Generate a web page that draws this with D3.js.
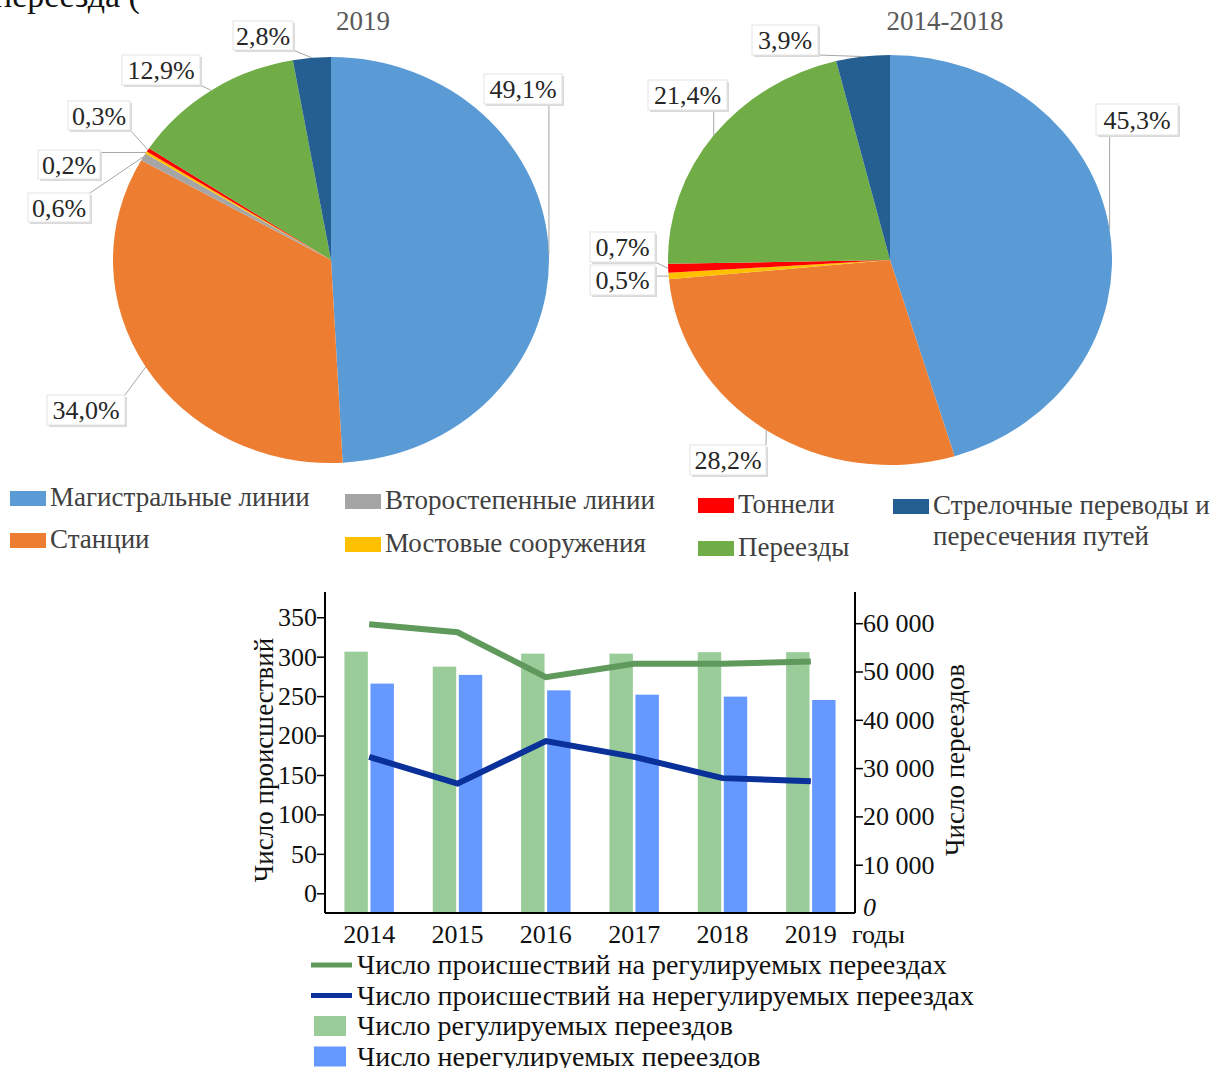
<!DOCTYPE html>
<html>
<head>
<meta charset="utf-8">
<script src="https://cdn.jsdelivr.net/npm/d3@7"></script>
<style>
  body { margin: 0; background: #fff; }
  svg { display: block; font-family: "Liberation Serif", "DejaVu Serif", serif; }
</style>
</head>
<body>
<div id="chart"></div>
<script>
// categories of the two pies (same order, clockwise from 12 o'clock)
const pieCategories = ["Магистральные линии", "Станции", "Второстепенные линии",
    "Мостовые сооружения", "Тоннели", "Переезды", "Стрелочные переводы и пересечения путей"];
const pieColors = ["#5b9bd5", "#ed7d31", "#a5a5a5", "#ffc000", "#ff0000", "#70ad47", "#255e91"];
const share2019 = [49.1, 34.0, 0.6, 0.2, 0.3, 12.9, 2.8];
const share20142018 = [45.3, 28.2, 0, 0.5, 0.7, 21.4, 3.9];

// bottom chart
const years = ["2014", "2015", "2016", "2017", "2018", "2019"];
const incidentsRegulated = [341, 331, 274, 291, 291, 294];
const incidentsUnregulated = [173, 139, 193, 173, 146, 142];
const crossingsRegulated = [54100, 51000, 53700, 53700, 54000, 54000];
const crossingsUnregulated = [47500, 49300, 46100, 45200, 44800, 44100];
const leftTicks = [0, 50, 100, 150, 200, 250, 300, 350];
const rightTicks = [0, 10000, 20000, 30000, 40000, 50000, 60000];

const W = 1217, H = 1068;
const svg = d3.select("#chart").append("svg")
    .attr("width", W).attr("height", H);

// cut-off line of text from the page above
svg.append("text").attr("x", -6).attr("y", 7)
    .style("font-size", "34px").style("fill", "#111")
    .text("переезда (");

// ---------- pies ----------
function drawPie(values, cx, cy, rx, ry, title, titleX, labelBoxes) {
    let pie = d3.pie().sort(null).value(d => d)(values);
    let arc = d3.arc().innerRadius(0).outerRadius(ry);
    let sx = rx / ry;
    let g = svg.append("g").attr("transform", "translate(" + cx + "," + cy + ") scale(" + sx + ",1)");
    g.selectAll("path")
        .data(pie)
        .enter()
        .append("path")
        .attr("d", arc)
        .style("fill", (d, i) => pieColors[i]);

    svg.append("text")
        .attr("x", titleX).attr("y", 30)
        .attr("text-anchor", "middle")
        .style("font-size", "27px").style("fill", "#595959")
        .text(title);

    // labels with leader lines
    pie.forEach(function (d, i) {
        let b = labelBoxes[i];
        if (!b || d.value === 0) return;
        let a = (d.startAngle + d.endAngle) / 2;
        let px = cx + rx * Math.sin(a), py = cy - ry * Math.cos(a);
        let qx = Math.max(b[0], Math.min(b[0] + b[2], px));
        let qy = Math.max(b[1], Math.min(b[1] + b[3], py));
        svg.append("line")
            .attr("x1", qx).attr("y1", qy).attr("x2", px).attr("y2", py)
            .style("stroke", "#a6a6a6").style("stroke-width", 1);
        svg.append("rect")
            .attr("x", b[0] + 2).attr("y", b[1] + 2).attr("width", b[2]).attr("height", b[3])
            .style("fill", "#d9d9d9");
        svg.append("rect")
            .attr("x", b[0]).attr("y", b[1]).attr("width", b[2]).attr("height", b[3])
            .style("fill", "#fff").style("stroke", "#e3e3e3");
        svg.append("text")
            .attr("x", b[0] + b[2] / 2).attr("y", b[1] + b[3] / 2 + 9)
            .attr("text-anchor", "middle")
            .style("font-size", "26px").style("fill", "#262626")
            .text(d.value.toFixed(1).replace(".", ",") + "%");
    });
}

drawPie(share2019, 331, 260, 218, 203, "2019", 363, [
    [484, 74, 78, 30], [47, 395, 78, 30], [28, 193, 62, 29], [38, 150, 62, 29],
    [68, 101, 62, 29], [122, 55, 78, 30], [233, 21, 60, 29]
]);
drawPie(share20142018, 890, 260, 222, 205, "2014-2018", 945, [
    [1096, 104, 82, 31], [690, 445, 76, 30], null, [590, 265, 65, 30],
    [590, 232, 65, 30], [648, 80, 79, 30], [752, 25, 66, 30]
]);

// pie legend
const legendPos = [[10, 498], [10, 540], [345, 501], [345, 544], [698, 505], [698, 548], [893, 506]];
pieCategories.forEach(function (c, i) {
    let p = legendPos[i];
    svg.append("rect").attr("x", p[0]).attr("y", p[1] - 7).attr("width", 36).attr("height", 15)
        .style("fill", pieColors[i]);
    let t = svg.append("text").attr("x", p[0] + 40).attr("y", p[1] + 8)
        .style("font-size", "27px").style("fill", "#404040");
    if (i === 6) {
        t.append("tspan").text("Стрелочные переводы и");
        t.append("tspan").attr("x", p[0] + 40).attr("dy", 31).text("пересечения путей");
    } else {
        t.text(c);
    }
});

// ---------- bottom combo chart ----------
const pLeft = 325, pRight = 855, pTop = 592, pBottom = 913;
let x = d3.scaleBand().domain(years).range([pLeft, pRight]).paddingInner(0.44).paddingOuter(0.22);
let xSub = d3.scaleBand().domain([0, 1]).range([0, x.bandwidth()]).paddingInner(0.1);
let yL = d3.scaleLinear().domain([-25, 382]).range([pBottom, pTop]);
let yR = d3.scaleLinear().domain([0, 66460]).range([pBottom, pTop]);

let bars = svg.append("g");
years.forEach(function (yr, i) {
    [crossingsRegulated[i], crossingsUnregulated[i]].forEach(function (v, j) {
        bars.append("rect")
            .attr("x", x(yr) + xSub(j))
            .attr("y", yR(v))
            .attr("width", xSub.bandwidth())
            .attr("height", pBottom - yR(v))
            .style("fill", j === 0 ? "#99cc99" : "#6699ff");
    });
});

let line = d3.line().x((d, i) => x(years[i]) + x.bandwidth() / 2).y(d => yL(d));
svg.append("path").datum(incidentsRegulated).attr("d", line)
    .style("fill", "none").style("stroke", "#5f9a5c").style("stroke-width", 6);
svg.append("path").datum(incidentsUnregulated).attr("d", line)
    .style("fill", "none").style("stroke", "#0a309a").style("stroke-width", 6);

// axes
let gl = svg.append("g").attr("transform", "translate(" + pLeft + ",0)")
    .call(d3.axisLeft(yL).tickValues(leftTicks).tickSize(8).tickSizeOuter(0));
let gr = svg.append("g").attr("transform", "translate(" + pRight + ",0)")
    .call(d3.axisRight(yR).tickValues(rightTicks).tickSize(8).tickSizeOuter(0)
        .tickFormat(d => d3.format(",")(d).replace(",", " ")));
gr.selectAll(".tick").filter(d => d === 0).select("line").remove();
gr.selectAll(".tick").filter(d => d === 0).select("text").style("font-style", "italic").attr("dy", "0.1em");
svg.append("line").attr("x1", pLeft).attr("x2", pRight).attr("y1", pBottom).attr("y2", pBottom)
    .style("stroke", "#000").style("stroke-width", 2);
[gl, gr].forEach(function (g) {
    g.select(".domain").style("stroke-width", 2).attr("d", "M0," + pTop + "V" + pBottom);
    g.selectAll(".tick line").style("stroke-width", 1.5);
    g.selectAll("text").style("font-size", "26px").style("font-family", "Liberation Serif").style("fill", "#111");
});
gl.selectAll(".tick text").attr("x", -8);
gr.selectAll(".tick text").attr("x", 8);

years.forEach(function (yr) {
    svg.append("text").attr("x", x(yr) + x.bandwidth() / 2).attr("y", 943)
        .attr("text-anchor", "middle").style("font-size", "26px").style("fill", "#111").text(yr);
});
svg.append("text").attr("x", 852).attr("y", 943).style("font-size", "26px").style("fill", "#111").text("годы");

svg.append("text").attr("transform", "translate(273,760) rotate(-90)")
    .attr("text-anchor", "middle").style("font-size", "27px").style("fill", "#111")
    .text("Число происшествий");
svg.append("text").attr("transform", "translate(964,760) rotate(-90)")
    .attr("text-anchor", "middle").style("font-size", "27px").style("fill", "#111")
    .text("Число переездов");

// bottom legend
const legendItems = [
    ["Число происшествий на регулируемых переездах", "line", "#5f9a5c"],
    ["Число происшествий на нерегулируемых переездах", "line", "#0a309a"],
    ["Число регулируемых переездов", "rect", "#99cc99"],
    ["Число нерегулируемых переездов", "rect", "#6699ff"]
];
legendItems.forEach(function (it, i) {
    let cy = 965 + i * 30.5;
    if (it[1] === "line") {
        svg.append("line").attr("x1", 311).attr("x2", 352).attr("y1", cy).attr("y2", cy)
            .style("stroke", it[2]).style("stroke-width", 5);
    } else {
        svg.append("rect").attr("x", 314).attr("y", cy - 10).attr("width", 32).attr("height", 20)
            .style("fill", it[2]);
    }
    svg.append("text").attr("x", 357).attr("y", cy + 9)
        .style("font-size", "28px").style("fill", "#111").text(it[0]);
});
</script>
</body>
</html>
